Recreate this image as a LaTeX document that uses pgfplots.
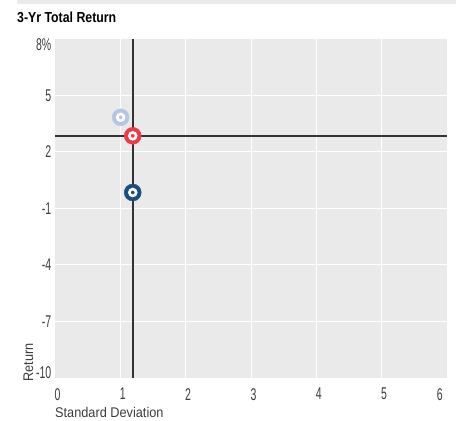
\documentclass[border=0pt]{standalone}
\usepackage{pgfplots}
\pgfplotsset{compat=1.18}
\usepackage{fontspec}
\setmainfont{Liberation Sans}
\newfontfamily\tickfont{Liberation Sans}[FakeStretch=0.62]
\newfontfamily\labfont{Liberation Sans}[FakeStretch=0.91]
\newfontfamily\titlefont{Liberation Sans}[FakeStretch=0.85]
\definecolor{bg}{HTML}{EAEAEA}
\definecolor{lblue}{HTML}{B4C7E2}
\definecolor{mred}{HTML}{EE3A43}
\definecolor{dblue}{HTML}{1B4D7E}
\definecolor{cross}{HTML}{333333}
\definecolor{txt}{HTML}{3C3C3C}
\begin{document}
\begin{tikzpicture}
\useasboundingbox (0,0) rectangle (456bp,421bp);
\fill[bg] (17bp,417bp) rectangle (456bp,421bp);
\node[anchor=base west, inner sep=0pt, font=\titlefont\bfseries\fontsize{14.5bp}{15bp}\selectfont] at (17bp,398.5bp) {3-Yr Total Return};
\begin{axis}[
  at={(55bp,43bp)}, anchor=south west,
  scale only axis, width=392bp, height=339bp,
  xmin=0, xmax=6, ymin=-10, ymax=8,
  axis line style={draw=none},
  axis background/.style={fill=bg},
  grid=major, major grid style={white, line width=1bp},
  xtick={1,2,3,4,5}, ytick={-7,-4,-1,2,5},
  extra x ticks={0,5.85}, extra x tick labels={0,6},
  extra x tick style={grid=none},
  extra y ticks={7.68,-9.73}, extra y tick labels={8\%,-10},
  extra y tick style={grid=none},
  tick style={draw=none}, major tick length=0pt,
  /pgf/number format/assume math mode=true,
  xticklabel style={font=\tickfont\fontsize{17bp}{17bp}\selectfont, text=txt, anchor=north, inner sep=0pt, yshift=-10bp, xshift=2.5bp},
  yticklabel style={font=\tickfont\fontsize{17bp}{17bp}\selectfont, text=txt, anchor=east, inner sep=0pt, xshift=-3.5bp},
  clip=false,
]
\addplot[cross, line width=1.6bp] coordinates {(1.19,-10) (1.19,8)};
\addplot[cross, line width=1.6bp] coordinates {(0,2.86) (6,2.86)};
\addplot[only marks, mark=*, mark size=8.5bp, color=lblue] coordinates {(1.005,3.84)};
\addplot[only marks, mark=o, mark size=3.4bp, color=white, line width=2.6bp] coordinates {(1.005,3.84)};
\addplot[only marks, mark=*, mark size=8.5bp, color=mred] coordinates {(1.19,2.86)};
\addplot[only marks, mark=o, mark size=3.4bp, color=white, line width=2.6bp] coordinates {(1.19,2.86)};
\addplot[only marks, mark=*, mark size=8.5bp, color=dblue] coordinates {(1.19,-0.15)};
\addplot[only marks, mark=o, mark size=3.4bp, color=white, line width=2.6bp] coordinates {(1.19,-0.15)};
\end{axis}
\node[anchor=base west, inner sep=0pt, text=txt, font=\labfont\fontsize{14bp}{14bp}\selectfont] at (55bp,3.5bp) {Standard Deviation};
\node[rotate=90, anchor=base west, inner sep=0pt, text=txt, font=\labfont\fontsize{14bp}{14bp}\selectfont] at (33bp,39bp) {Return};
\end{tikzpicture}
\end{document}
